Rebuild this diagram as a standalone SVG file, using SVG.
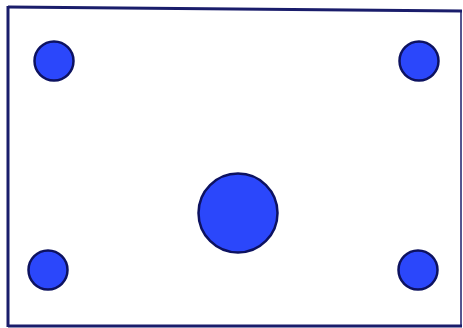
<svg xmlns="http://www.w3.org/2000/svg" width="463" height="328" viewBox="0 0 463 328">
<style>
.dot{fill:#2b47fb;stroke:#0d1260;stroke-width:2.5}
.frame{stroke:#1a1d6b;fill:none}
</style>
<rect width="463" height="328" fill="#ffffff"/>
<g id="frame">
<line class="frame" x1="8" y1="7" x2="462" y2="11" stroke-width="3"/>
<line class="frame" x1="8" y1="6" x2="8" y2="327" stroke-width="3"/>
<line class="frame" x1="8" y1="326" x2="462" y2="326" stroke-width="3"/>
<line class="frame" x1="461" y1="10" x2="461" y2="326" stroke-width="1.5"/>
</g>
<g id="node-top-left"><circle class="dot" cx="54" cy="61" r="19.5"/></g>
<g id="node-top-right"><circle class="dot" cx="419" cy="61" r="19.5"/></g>
<g id="node-bottom-left"><circle class="dot" cx="48" cy="270" r="19.5"/></g>
<g id="node-bottom-right"><circle class="dot" cx="418" cy="270" r="19.5"/></g>
<g id="node-center"><circle class="dot" cx="238" cy="213" r="39.5"/></g>
<g id="connectors"></g>
</svg>
